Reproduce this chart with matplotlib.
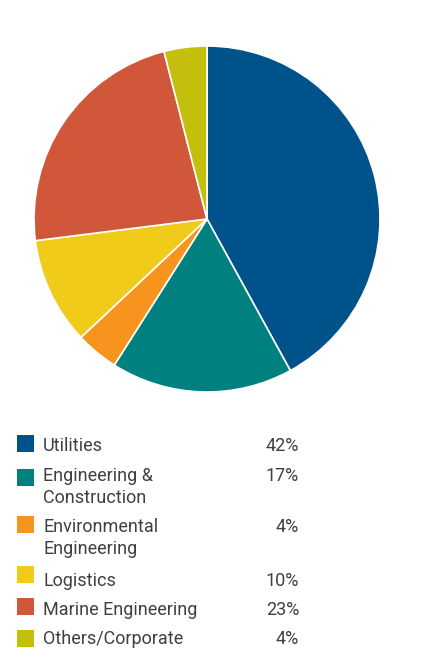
import matplotlib.pyplot as plt
from matplotlib.patches import Rectangle

# segment shares, clockwise from 12 o'clock
industries = ['Utilities', 'Engineering &\nConstruction', 'Environmental\nEngineering',
              'Logistics', 'Marine Engineering', 'Others/Corporate']
shares = [42, 17, 4, 10, 23, 4]
colors = ['#00528a', '#00807f', '#f7941d', '#f0cb1a', '#d1573a', '#c4be0c']

W, H = 436, 663
fig = plt.figure(figsize=(W / 100, H / 100), dpi=100)
fig.patch.set_facecolor('white')

# pie centred at (207, 219) px, radius 173 px
cx, cy, r = 207, 219, 173
ax = fig.add_axes([(cx - r) / W, 1 - (cy + r) / H, 2 * r / W, 2 * r / H])
ax.pie(shares, colors=colors, startangle=90, counterclock=False, radius=1,
       wedgeprops=dict(edgecolor='white', linewidth=1.2))
ax.set_xlim(-1.0, 1.0)
ax.set_ylim(-1.0, 1.0)
ax.set_aspect('equal')
ax.axis('off')

# legend rows: square top (px) and first-line baseline (px)
square_tops = [435, 469, 516, 566, 598, 630]
baselines = [451, 481, 532, 586, 615, 644]
line_gap = 22
txt = dict(fontsize=13, family='Roboto', fontweight='normal', color='#404040')

for name, val, col, top, base in zip(industries, shares, colors, square_tops, baselines):
    fig.add_artist(Rectangle((17 / W, 1 - (top + 17) / H), 17 / W, 17 / H,
                             transform=fig.transFigure, facecolor=col, edgecolor='none'))
    for k, line in enumerate(name.split('\n')):
        fig.text(43 / W, 1 - (base + k * line_gap) / H, line, ha='left', va='baseline', **txt)
    fig.text(299 / W, 1 - base / H, f'{val}%', ha='right', va='baseline', **txt)

fig.savefig('out.png', dpi=100, facecolor='white')
